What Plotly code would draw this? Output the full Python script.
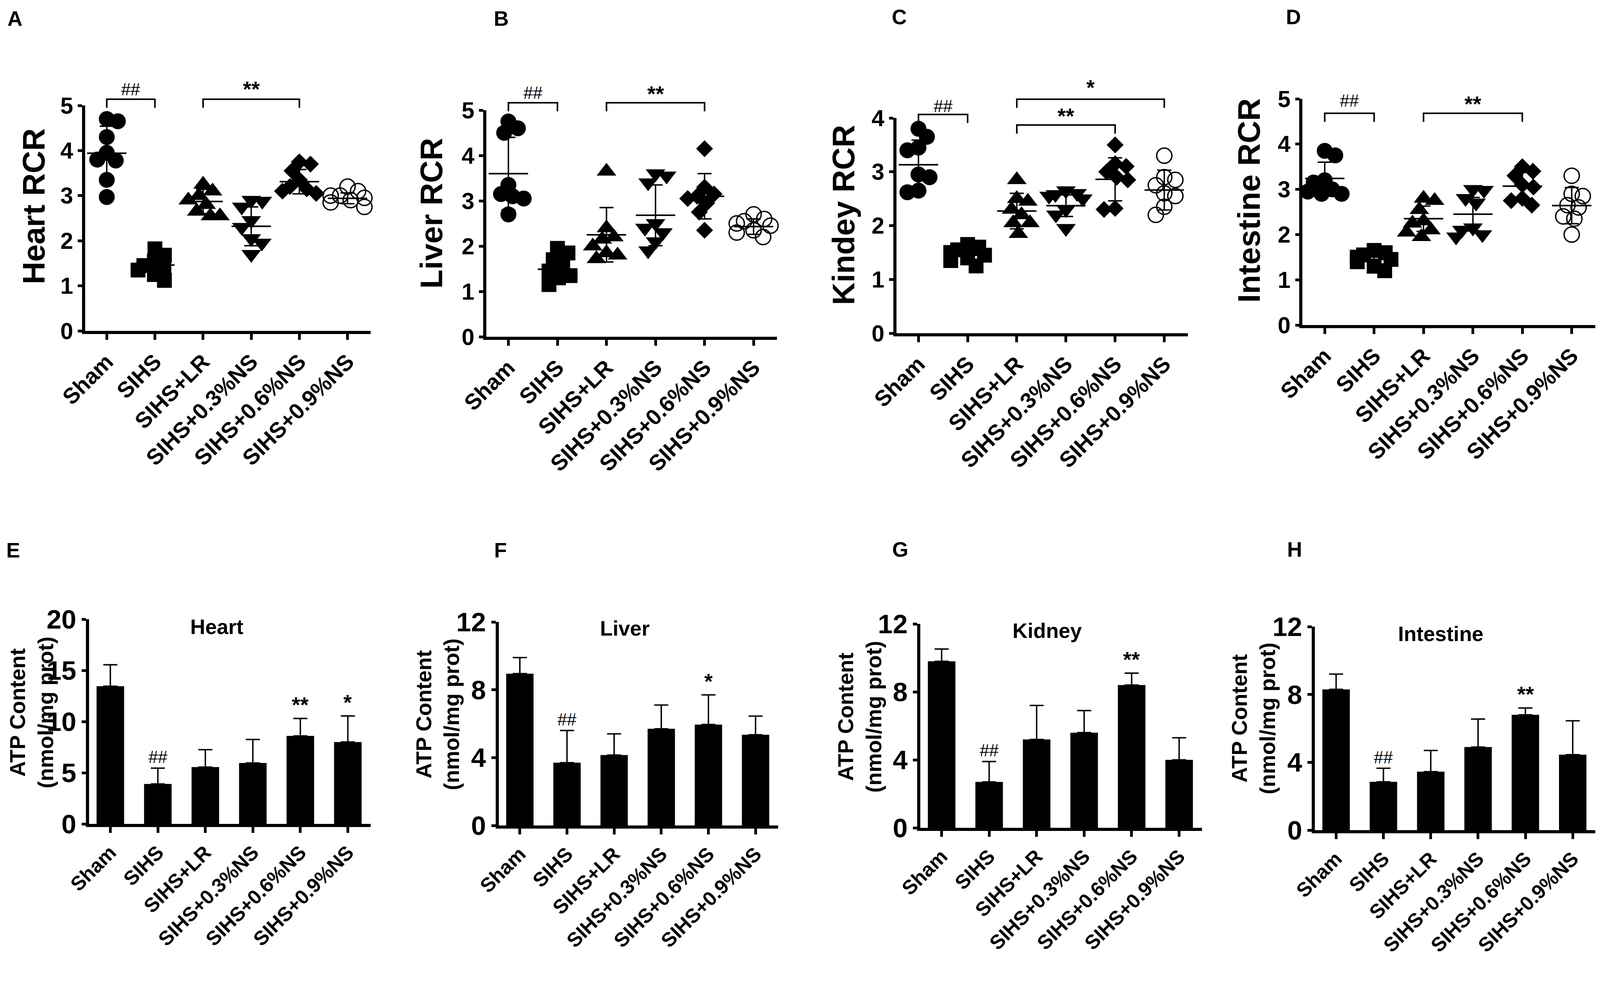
import plotly.graph_objects as go

# The browser viewport is 4096x2570 (body margin 8px); the figure is laid out so that it fills it.
FW, FH = 4080, 2554
SX = 4096 / 4550.0          # horizontal scale from reference pixels to page pixels
FS = 0.95                   # font / marker scale compromise
FONT = "Arial, Liberation Sans, Helvetica, sans-serif"

groups = ["Sham", "SIHS", "SIHS+LR", "SIHS+0.3%NS", "SIHS+0.6%NS", "SIHS+0.9%NS"]

# ---------------- RCR (scatter dot plots) ----------------
heart_rcr_sham = [4.7, 4.65, 4.3, 3.95, 3.8, 3.78, 3.35, 2.97]
heart_rcr_sihs = [1.82, 1.68, 1.55, 1.45, 1.4, 1.35, 1.25, 1.12]
heart_rcr_lr = [3.25, 3.1, 3.0, 2.9, 2.8, 2.65, 2.55, 2.55]
heart_rcr_ns03 = [2.9, 2.88, 2.75, 2.45, 2.3, 2.05, 1.95, 1.7]
heart_rcr_ns06 = [3.75, 3.7, 3.55, 3.35, 3.2, 3.15, 3.1, 3.05]
heart_rcr_ns09 = [3.2, 3.1, 3.0, 3.0, 2.95, 2.9, 2.85, 2.75]
heart_rcr_mean = [3.94, 1.46, 2.87, 2.32, 3.31, 2.94]
heart_rcr_sd = [0.6, 0.19, 0.27, 0.43, 0.27, 0.12]

liver_rcr_sham = [4.75, 4.6, 4.5, 3.35, 3.15, 3.1, 3.05, 2.7]
liver_rcr_sihs = [1.95, 1.85, 1.7, 1.55, 1.45, 1.35, 1.3, 1.15]
liver_rcr_lr = [3.65, 2.4, 2.2, 2.15, 2.0, 1.85, 1.8, 1.72]
liver_rcr_ns03 = [3.6, 3.55, 3.4, 2.5, 2.4, 2.3, 2.1, 1.9]
liver_rcr_ns06 = [4.15, 3.3, 3.15, 3.1, 3.05, 2.95, 2.75, 2.35]
liver_rcr_ns09 = [2.7, 2.6, 2.55, 2.5, 2.45, 2.35, 2.3, 2.2]
liver_rcr_mean = [3.6, 1.49, 2.25, 2.68, 3.1, 2.43]
liver_rcr_sd = [0.8, 0.2, 0.6, 0.67, 0.5, 0.17]

kidney_rcr_sham = [3.8, 3.65, 3.45, 3.4, 2.95, 2.9, 2.65, 2.62]
kidney_rcr_sihs = [1.65, 1.6, 1.55, 1.5, 1.45, 1.4, 1.35, 1.25]
kidney_rcr_lr = [2.85, 2.5, 2.45, 2.3, 2.2, 2.05, 2.05, 1.85]
kidney_rcr_ns03 = [2.65, 2.6, 2.58, 2.55, 2.5, 2.3, 2.2, 1.95]
kidney_rcr_ns06 = [3.5, 3.15, 3.1, 3.0, 2.9, 2.85, 2.32, 2.3]
kidney_rcr_ns09 = [3.3, 2.9, 2.85, 2.75, 2.6, 2.55, 2.35, 2.2]
kidney_rcr_mean = [3.13, 1.45, 2.27, 2.37, 2.86, 2.66]
kidney_rcr_sd = [0.46, 0.12, 0.33, 0.2, 0.4, 0.37]

intestine_rcr_sham = [3.85, 3.75, 3.2, 3.15, 3.0, 2.95, 2.9, 2.9]
intestine_rcr_sihs = [1.65, 1.6, 1.55, 1.5, 1.45, 1.4, 1.3, 1.2]
intestine_rcr_lr = [2.8, 2.75, 2.55, 2.3, 2.25, 2.1, 2.05, 1.95]
intestine_rcr_ns03 = [3.0, 2.98, 2.8, 2.7, 2.15, 2.1, 2.0, 1.95]
intestine_rcr_ns06 = [3.5, 3.4, 3.3, 3.1, 3.05, 2.8, 2.75, 2.65]
intestine_rcr_ns09 = [3.3, 2.9, 2.85, 2.65, 2.6, 2.4, 2.35, 2.0]
intestine_rcr_mean = [3.24, 1.45, 2.35, 2.45, 3.07, 2.64]
intestine_rcr_sd = [0.36, 0.15, 0.28, 0.37, 0.3, 0.4]

# ---------------- ATP content (bar charts, mean + SD) ----------------
heart_atp_mean = [13.45, 3.9, 5.55, 5.95, 8.6, 8.0]
heart_atp_sd = [2.1, 1.55, 1.7, 2.3, 1.7, 2.55]
heart_atp_sig = ["", "##", "", "", "**", "*"]

liver_atp_mean = [8.95, 3.7, 4.15, 5.7, 5.95, 5.35]
liver_atp_sd = [0.95, 1.9, 1.25, 1.4, 1.75, 1.1]
liver_atp_sig = ["", "##", "", "", "*", ""]

kidney_atp_mean = [9.8, 2.7, 5.2, 5.6, 8.4, 4.0]
kidney_atp_sd = [0.72, 1.2, 2.0, 1.3, 0.7, 1.3]
kidney_atp_sig = ["", "##", "", "", "**", ""]

intestine_atp_mean = [8.3, 2.85, 3.45, 4.9, 6.8, 4.45]
intestine_atp_sd = [0.9, 0.8, 1.25, 1.65, 0.4, 2.0]
intestine_atp_sig = ["", "##", "", "", "**", ""]

# brackets: (group_from, group_to, label)
heart_rcr_brackets = [(0, 1, "##"), (2, 4, "**")]
liver_rcr_brackets = [(0, 1, "##"), (2, 4, "**")]
kidney_rcr_brackets = [(0, 1, "##"), (2, 4, "**"), (2, 5, "*")]
intestine_rcr_brackets = [(0, 1, "##"), (2, 4, "**")]

# ---------------- geometry, in reference pixels (4550x2570) ----------------
XR = [-0.45, 5.48]
top_panels = [
    dict(letter="A", ytitle="Heart RCR", pts=[heart_rcr_sham, heart_rcr_sihs, heart_rcr_lr, heart_rcr_ns03, heart_rcr_ns06, heart_rcr_ns09],
         mean=heart_rcr_mean, sd=heart_rcr_sd, br=heart_rcr_brackets, ymax=5,
         px=(242, 1054), py=(847, 270), letter_xy=(42, 47), title_xy=(95, 528),
         br_y=[254, 254], br_txt=[228, 228]),
    dict(letter="B", ytitle="Liver RCR", pts=[liver_rcr_sham, liver_rcr_sihs, liver_rcr_lr, liver_rcr_ns03, liver_rcr_ns06, liver_rcr_ns09],
         mean=liver_rcr_mean, sd=liver_rcr_sd, br=liver_rcr_brackets, ymax=5,
         px=(1383, 2210), py=(862, 282), letter_xy=(1425, 47), title_xy=(1226, 546),
         br_y=[263, 263], br_txt=[238, 240]),
    dict(letter="C", ytitle="Kindey RCR", pts=[kidney_rcr_sham, kidney_rcr_sihs, kidney_rcr_lr, kidney_rcr_ns03, kidney_rcr_ns06, kidney_rcr_ns09],
         mean=kidney_rcr_mean, sd=kidney_rcr_sd, br=kidney_rcr_brackets, ymax=4,
         px=(2549, 3378), py=(853, 302), letter_xy=(2557, 44), title_xy=(2398, 550),
         br_y=[293, 320, 254], br_txt=[271, 297, 224]),
    dict(letter="D", ytitle="Intestine RCR", pts=[intestine_rcr_sham, intestine_rcr_sihs, intestine_rcr_lr, intestine_rcr_ns03, intestine_rcr_ns06, intestine_rcr_ns09],
         mean=intestine_rcr_mean, sd=intestine_rcr_sd, br=intestine_rcr_brackets, ymax=5,
         px=(3704, 4537), py=(832, 253), letter_xy=(3678, 44), title_xy=(3551, 513),
         br_y=[290, 290], br_txt=[258, 266]),
]
bottom_panels = [
    dict(letter="E", name="Heart", mean=heart_atp_mean, sd=heart_atp_sd, sig=heart_atp_sig, ymax=20, dt=5,
         px=(253, 1054), py=(2109, 1585), letter_xy=(37, 1408), title_xy=(90, 1824), name_xy=(616, 1604)),
    dict(letter="F", name="Liver", mean=liver_atp_mean, sd=liver_atp_sd, sig=liver_atp_sig, ymax=12, dt=4,
         px=(1418, 2213), py=(2113, 1592), letter_xy=(1424, 1408), title_xy=(1245, 1828), name_xy=(1777, 1608)),
    dict(letter="G", name="Kidney", mean=kidney_atp_mean, sd=kidney_atp_sd, sig=kidney_atp_sig, ymax=12, dt=4,
         px=(2617, 3418), py=(2119, 1597), letter_xy=(2560, 1406), title_xy=(2445, 1835), name_xy=(2978, 1615)),
    dict(letter="H", name="Intestine", mean=intestine_atp_mean, sd=intestine_atp_sd, sig=intestine_atp_sig, ymax=12, dt=4,
         px=(3739, 4537), py=(2125, 1604), letter_xy=(3681, 1406), title_xy=(3565, 1839), name_xy=(4097, 1623)),
]

symbols = ["circle", "square", "triangle-up", "triangle-down", "diamond", "circle-open"]
sizes = [43, 40, 46, 46, 35, 41]


def PX(x):
    return (x * SX - 8) / FW


def PY(y):
    return 1 - (y - 8) / FH


def swarm(vals, px_per_y, px_per_x, dia=31.0, step=1.5, maxoff=48.0):
    """GraphPad-like scatter: each point goes as close to the centre as it can
    without coming closer than `dia` pixels to the points placed before it."""
    order = sorted(range(len(vals)), key=lambda i: -vals[i])
    placed = []
    offs = [0.0] * len(vals)
    for i in order:
        y = vals[i] * px_per_y
        bal = sum(p[0] for p in placed)
        signs = [-1, 1] if bal > 0 else [1, -1]
        best = None
        j = 0
        while best is None:
            mag = j * step
            for s in (signs if j else [1]):
                x = s * mag
                if mag >= maxoff or all((x - a) ** 2 + (y - b) ** 2 >= dia * dia for a, b in placed):
                    best = x
                    break
            j += 1
        placed.append((best, y))
        offs[i] = best / px_per_x
    return offs


fig = go.Figure()
annotations = []
shapes = []
axes = {}


def axis_style(tsize, ticklen, tickw):
    return dict(showline=True, linewidth=7.5, linecolor="black", ticks="outside",
                ticklen=ticklen, tickwidth=tickw, tickcolor="black", showgrid=False,
                zeroline=False, automargin=False, fixedrange=True,
                tickfont=dict(family=FONT, size=tsize, color="black", weight="bold"))


def fnt(size, bold=True):
    return dict(family=FONT, size=size * FS, color="black", weight="bold" if bold else "normal")


def letter(txt, xy):
    annotations.append(dict(text=txt, x=PX(xy[0]), y=PY(xy[1]), xref="paper", yref="paper",
                            xanchor="center", yanchor="middle", showarrow=False, font=fnt(56)))


k = 0
for p in top_panels:
    k += 1
    xa, ya = "x%d" % k, "y%d" % k
    ppy = (p["py"][0] - p["py"][1]) / p["ymax"]
    ppx = (p["px"][1] - p["px"][0]) / (XR[1] - XR[0])
    for g, vals in enumerate(p["pts"]):
        offs = swarm(vals, ppy, ppx)
        sym = symbols[g]
        mk = dict(symbol=sym, size=sizes[g] * FS, color="black")
        if sym.endswith("open"):
            mk["line"] = dict(width=3.5, color="black")
        fig.add_trace(go.Scatter(x=[g + o for o in offs], y=vals, mode="markers", marker=mk,
                                 xaxis=xa, yaxis=ya, cliponaxis=False, hoverinfo="skip"))
    fig.add_trace(go.Scatter(x=list(range(6)), y=p["mean"], mode="markers",
                             marker=dict(symbol="line-ew", size=80 * SX, color="black",
                                         line=dict(width=4, color="black")),
                             error_y=dict(type="data", array=p["sd"], visible=True,
                                          thickness=3.6, width=20 * SX, color="black"),
                             xaxis=xa, yaxis=ya, cliponaxis=False, hoverinfo="skip"))
    xs = axis_style(60 * FS, 15, 6.5)
    xs.update(domain=[PX(p["px"][0]), PX(p["px"][1])], range=XR, anchor=ya, tickmode="array",
              tickvals=list(range(6)), ticktext=groups, tickangle=-45)
    ys = axis_style(62 * FS, 11, 7)
    ys.update(domain=[PY(p["py"][0]), PY(p["py"][1])], range=[0, p["ymax"]], anchor=xa, dtick=1, tick0=0)
    axes["xaxis" if k == 1 else "xaxis%d" % k] = xs
    axes["yaxis" if k == 1 else "yaxis%d" % k] = ys
    annotations.append(dict(text=p["ytitle"], x=PX(p["title_xy"][0]), y=PY(p["title_xy"][1]),
                            xref="paper", yref="paper", xanchor="center", yanchor="middle",
                            textangle=-90, showarrow=False, font=fnt(84)))
    letter(p["letter"], p["letter_xy"])
    for (a, b, lab), by, ty in zip(p["br"], p["br_y"], p["br_txt"]):
        shapes.append(dict(type="path", xref=xa, yref="paper",
                           path="M %g,%g L %g,%g L %g,%g L %g,%g" % (a, PY(by + 22), a, PY(by), b, PY(by), b, PY(by + 22)),
                           line=dict(color="black", width=4)))
        annotations.append(dict(text=lab, x=(a + b) / 2, y=PY(ty), xref=xa, yref="paper",
                                xanchor="center", yanchor="middle", showarrow=False,
                                font=fnt(46, False) if "#" in lab else fnt(58)))

for p in bottom_panels:
    k += 1
    xa, ya = "x%d" % k, "y%d" % k
    fig.add_trace(go.Bar(x=list(range(6)), y=p["mean"], width=0.58, marker=dict(color="black", line=dict(width=0)),
                         error_y=dict(type="data", symmetric=False, array=p["sd"], arrayminus=[0] * 6,
                                      thickness=3.6, width=20 * SX, color="black", visible=True),
                         xaxis=xa, yaxis=ya, hoverinfo="skip"))
    xs = axis_style(54 * FS, 15, 6.5)
    xs.update(domain=[PX(p["px"][0]), PX(p["px"][1])], range=XR, anchor=ya, tickmode="array",
              tickvals=list(range(6)), ticktext=groups, tickangle=-45)
    ys = axis_style(72 * FS, 11, 7)
    ys.update(domain=[PY(p["py"][0]), PY(p["py"][1])], range=[0, p["ymax"]], anchor=xa, dtick=p["dt"], tick0=0)
    axes["xaxis%d" % k] = xs
    axes["yaxis%d" % k] = ys
    annotations.append(dict(text="ATP Content<br>(nmol/mg prot)", x=PX(p["title_xy"][0]), y=PY(p["title_xy"][1]),
                            xref="paper", yref="paper", xanchor="center", yanchor="middle",
                            textangle=-90, showarrow=False, font=fnt(58)))
    annotations.append(dict(text=p["name"], x=PX(p["name_xy"][0]), y=PY(p["name_xy"][1]),
                            xref="paper", yref="paper", xanchor="center", yanchor="middle",
                            showarrow=False, font=fnt(56)))
    letter(p["letter"], p["letter_xy"])
    for g, lab in enumerate(p["sig"]):
        if lab:
            annotations.append(dict(text=lab, x=g, y=p["mean"][g] + p["sd"][g], xref=xa, yref=ya,
                                    xanchor="center", yanchor="bottom", yshift=2, showarrow=False,
                                    font=fnt(46, False) if "#" in lab else fnt(58)))

fig.update_layout(template="none", width=FW, height=FH, margin=dict(l=0, r=0, t=0, b=0, autoexpand=False),
                  paper_bgcolor="white", plot_bgcolor="white", showlegend=False,
                  font=dict(family=FONT, color="black"), annotations=annotations, shapes=shapes, **axes)
fig.write_html("out.html")
